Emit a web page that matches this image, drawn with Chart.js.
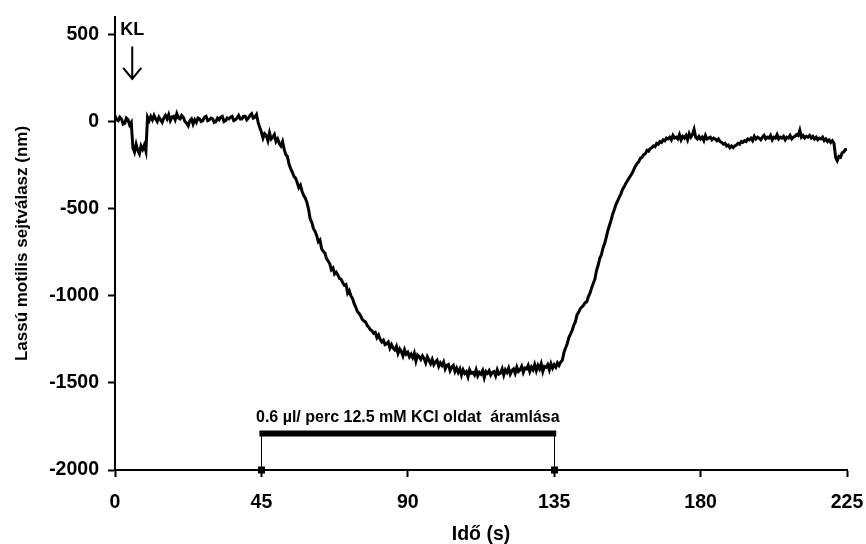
<!DOCTYPE html>
<html>
<head>
<meta charset="utf-8">
<script src="https://cdn.jsdelivr.net/npm/chart.js@4/dist/chart.umd.min.js"></script>
<style>
  html, body { margin: 0; padding: 0; background: #fff; }
  #wrap { width: 866px; height: 544px; position: relative; }
</style>
</head>
<body>
<div id="wrap"><canvas id="c" width="866" height="544"></canvas></div>
<script>
// ---- data ----
const sampleStepSeconds = 0.5; // readings every 0.5 s, t = 0 .. 225 s
const responseNm = [
  35, 10, 5, 25, 15, -15, -10, 20, 10, -20,
  -5, -150, -175, -130, -165, -185, -140, -160, -135, -170,
  25, 5, 30, 10, 35, 15, 0, 25, 10, -5,
  20, 35, 15, 40, 5, 25, 30, 10, 45, 20,
  15, 35, 25, 0, -10, -25, 5, 15, -15, 10,
  -5, 20, 15, 0, 5, 25, 30, 5, 10, 20,
  15, -5, 0, 20, 10, 25, 30, 0, 5, 20,
  15, 25, 30, 5, 10, 20, 35, 15, 15, 30,
  30, 10, 20, 35, 45, 20, 25, 40, -5, -35,
  -60, -95, -70, -80, -110, -65, -100, -90, -75, -115,
  -100, -125, -140, -115, -160, -190, -200, -245, -270, -290,
  -315, -325, -350, -380, -365, -400, -425, -440, -465, -505,
  -560, -580, -615, -630, -655, -690, -680, -730, -745, -755,
  -785, -800, -815, -850, -840, -875, -865, -880, -900, -905,
  -925, -940, -935, -985, -970, -1000, -1015, -1045, -1065, -1090,
  -1100, -1115, -1135, -1145, -1150, -1170, -1180, -1195, -1200, -1215,
  -1210, -1240, -1225, -1250, -1265, -1255, -1280, -1275, -1265, -1300,
  -1280, -1300, -1310, -1290, -1330, -1305, -1320, -1345, -1310, -1335,
  -1325, -1350, -1335, -1355, -1330, -1375, -1340, -1350, -1365, -1345,
  -1360, -1385, -1350, -1370, -1390, -1365, -1395, -1380, -1370, -1405,
  -1385, -1400, -1380, -1420, -1400, -1395, -1430, -1410, -1400, -1435,
  -1415, -1440, -1420, -1455, -1425, -1445, -1435, -1465, -1425, -1445,
  -1440, -1455, -1425, -1460, -1440, -1450, -1430, -1470, -1435, -1445,
  -1430, -1455, -1440, -1435, -1460, -1425, -1450, -1445, -1420, -1455,
  -1425, -1440, -1415, -1450, -1430, -1420, -1445, -1410, -1435, -1425,
  -1405, -1440, -1415, -1420, -1400, -1435, -1410, -1425, -1395, -1430,
  -1400, -1420, -1390, -1435, -1405, -1410, -1395, -1425, -1390, -1415,
  -1395, -1410, -1385, -1400, -1380, -1370, -1325, -1300, -1275, -1240,
  -1220, -1200, -1170, -1150, -1110, -1095, -1075, -1065, -1055, -1040,
  -1035, -1005, -985, -955, -930, -905, -855, -825, -785, -765,
  -725, -700, -665, -625, -595, -565, -530, -505, -475, -455,
  -435, -415, -390, -375, -355, -340, -325, -310, -295, -275,
  -255, -240, -230, -210, -205, -190, -185, -165, -170, -155,
  -150, -140, -145, -125, -130, -115, -120, -105, -110, -95,
  -100, -90, -105, -80, -95, -90, -100, -75, -105, -85,
  -95, -80, -105, -70, -90, -75, -45, -90, -100, -85,
  -100, -90, -110, -80, -100, -95, -90, -105, -95, -100,
  -110, -100, -115, -120, -130, -125, -140, -135, -150, -140,
  -150, -140, -135, -125, -130, -115, -120, -110, -115, -100,
  -105, -95, -110, -85, -100, -90, -95, -105, -90, -80,
  -100, -90, -95, -80, -105, -90, -95, -75, -100, -90,
  -95, -85, -105, -90, -95, -80, -100, -90, -85, -75,
  -80, -50, -90, -80, -95, -85, -90, -80, -95, -85,
  -100, -90, -105, -95, -100, -90, -110, -100, -115, -105,
  -120, -110, -125, -205, -225, -200, -205, -180, -175, -160,
  -160
];
const xTickValues = [0, 45, 90, 135, 180, 225];
const yTickValues = [-2000, -1500, -1000, -500, 0, 500];
const xAxisTitle = 'Idő (s)';
const yAxisTitle = 'Lassú motilis sejtválasz (nm)';

// stimulus (perfusion) bar
const stimulusStart = 45;
const stimulusEnd = 135;
const stimulusLevel = -1790;
const stimulusLabel = '0.6 µl/ perc 12.5 mM KCl oldat  áramlása';
const stimulusLabelLevel = -1700;

// KL marker
const klLabel = 'KL';
const klTime = 5.3;
const klLabelLevel = 525;
const klArrowFrom = 430;
const klArrowTo = 245;

// ---- chart ----
const FONT = '"Liberation Sans", Arial, Helvetica, sans-serif';
const points = responseNm.map((v, i) => ({ x: i * sampleStepSeconds, y: v }));

const annotations = {
  id: 'annotations',
  afterDatasetsDraw(chart) {
    const { ctx, scales: { x, y } } = chart;
    ctx.save();
    ctx.strokeStyle = '#000';
    ctx.fillStyle = '#000';
    ctx.lineWidth = 1;
    [stimulusStart, stimulusEnd].forEach(t => {
      const px = Math.round(x.getPixelForValue(t)) + 0.5;
      ctx.beginPath();
      ctx.moveTo(px, y.getPixelForValue(stimulusLevel));
      ctx.lineTo(px, y.getPixelForValue(y.min));
      ctx.stroke();
      ctx.fillRect(px - 3.5, y.getPixelForValue(y.min) - 3.5, 7, 7);
    });
    ctx.lineWidth = 6;
    ctx.lineCap = 'butt';
    ctx.beginPath();
    ctx.moveTo(x.getPixelForValue(stimulusStart) - 2, y.getPixelForValue(stimulusLevel));
    ctx.lineTo(x.getPixelForValue(stimulusEnd) + 2, y.getPixelForValue(stimulusLevel));
    ctx.stroke();
    ctx.font = 'bold 16px ' + FONT;
    ctx.textAlign = 'center';
    ctx.textBaseline = 'middle';
    ctx.fillText(stimulusLabel, x.getPixelForValue((stimulusStart + stimulusEnd) / 2), y.getPixelForValue(stimulusLabelLevel));
    ctx.font = 'bold 18px ' + FONT;
    ctx.fillText(klLabel, x.getPixelForValue(klTime), y.getPixelForValue(klLabelLevel));
    const ax = x.getPixelForValue(klTime);
    const yTop = y.getPixelForValue(klArrowFrom);
    const yTip = y.getPixelForValue(klArrowTo);
    ctx.lineWidth = 2;
    ctx.beginPath();
    ctx.moveTo(ax, yTop);
    ctx.lineTo(ax, yTip);
    ctx.moveTo(ax - 9, yTip - 11);
    ctx.lineTo(ax, yTip);
    ctx.lineTo(ax + 9, yTip - 11);
    ctx.stroke();
    ctx.restore();
  }
};

new Chart(document.getElementById('c'), {
  type: 'line',
  data: {
    datasets: [{
      data: points,
      borderColor: '#000',
      borderWidth: 3,
      pointRadius: 0,
      tension: 0,
      fill: false
    }]
  },
  options: {
    responsive: false,
    animation: false,
    events: [],
    layout: { padding: { left: 0, right: 19, top: 17, bottom: 0 } },
    plugins: { legend: { display: false }, tooltip: { enabled: false } },
    scales: {
      x: {
        type: 'linear',
        min: 0,
        max: 225,
        afterBuildTicks(s) { s.ticks = xTickValues.map(v => ({ value: v })); },
        afterFit(s) { s.height = 74; s.paddingLeft = 0; s.paddingRight = 0; },
        border: { display: true, color: '#000', width: 2 },
        grid: { display: true, drawOnChartArea: false, drawTicks: true, tickLength: 7, tickColor: '#000', tickWidth: 2 },
        ticks: { color: '#000', font: { family: FONT, size: 19.5, weight: 'bold' }, padding: 14, maxRotation: 0, callback: v => String(v) },
        title: { display: true, text: xAxisTitle, color: '#000', font: { family: FONT, size: 19.5, weight: 'bold', lineHeight: 1.0 }, padding: { top: 0, bottom: 0 } }
      },
      y: {
        type: 'linear',
        min: -2000,
        max: 600,
        afterBuildTicks(s) { s.ticks = yTickValues.map(v => ({ value: v })); },
        afterFit(s) { s.width = 115; s.paddingTop = 0; s.paddingBottom = 0; },
        border: { display: true, color: '#000', width: 2 },
        grid: { display: true, drawOnChartArea: false, drawTicks: true, tickLength: 7, tickColor: '#000', tickWidth: 2 },
        ticks: { color: '#000', font: { family: FONT, size: 19.5, weight: 'bold' }, padding: 9, callback: v => String(v) },
        title: { display: true, text: yAxisTitle, color: '#000', font: { family: FONT, size: 17, weight: 'bold' }, padding: { top: 12, bottom: 0 } }
      }
    }
  },
  plugins: [annotations]
});
</script>
</body>
</html>
